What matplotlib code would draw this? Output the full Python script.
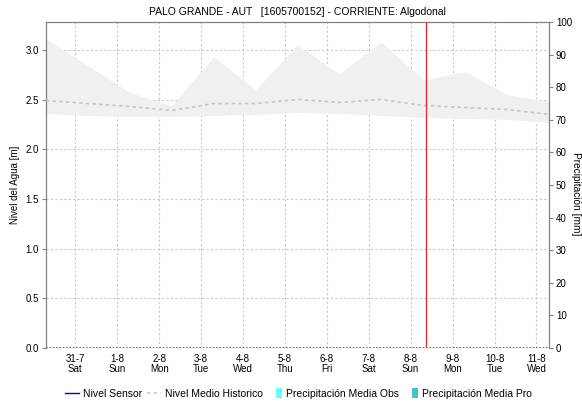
import matplotlib
matplotlib.use("Agg")
import matplotlib.pyplot as plt
from matplotlib.lines import Line2D
from matplotlib.patches import Patch, Rectangle
from matplotlib.legend_handler import HandlerPatch
import numpy as np

plt.rcParams['font.family'] = ['Liberation Sans', 'DejaVu Sans']

# ---- data ----
day_labels = ["31-7\nSat", "1-8\nSun", "2-8\nMon", "3-8\nTue", "4-8\nWed", "5-8\nThu",
              "6-8\nFri", "7-8\nSat", "8-8\nSun", "9-8\nMon", "10-8\nTue", "11-8\nWed"]
day_pos = list(range(12))            # days since 31-7 00:00
band_x = [-0.7 + k for k in range(13)]  # daily samples (07:00)
band_upper = [3.11, 2.84, 2.57, 2.44, 2.93, 2.60, 3.05, 2.76, 3.08, 2.70, 2.78, 2.55, 2.48]
band_lower = [2.36, 2.34, 2.33, 2.33, 2.34, 2.35, 2.37, 2.36, 2.34, 2.32, 2.31, 2.30, 2.27]
nivel_medio = [2.49, 2.46, 2.43, 2.39, 2.46, 2.46, 2.50, 2.47, 2.50, 2.44, 2.42, 2.40, 2.35]
now_x = 8.37
x_min, x_max = -0.7, 11.3

fig = plt.figure(figsize=(5.82, 4.05), dpi=100)
ax = fig.add_axes([46/582, 57/405, 503/582, 326/405])

ax.fill_between(band_x, band_lower, band_upper, color='#f0f0f0', lw=0, zorder=1)
ax.plot(band_x, nivel_medio, color='#c4c4c4', lw=1.2, ls=(0, (2, 2)), zorder=3)
ax.axvline(now_x, color='#e03030', lw=1.0, zorder=4)
ax.axhline(0, color='#555555', lw=1.2, ls=(0, (1, 1)), zorder=4)

ax.set_xlim(x_min, x_max)
ax.set_ylim(0, 3.28)
ax.set_yticks(np.arange(0, 3.01, 0.5))
ax.set_yticklabels([f"{v:.1f}" for v in np.arange(0, 3.01, 0.5)])
ax.set_xticks(day_pos)
ax.set_xticklabels(day_labels, linespacing=1.0)
ax.tick_params(axis='x', length=0, pad=4, labelsize=7)
ax.tick_params(axis='y', length=3, width=0.8, color='#808080', pad=2, labelsize=7)
ax.grid(True, color='#c8c8c8', lw=0.8, ls=(0, (2, 2)), zorder=0)
ax.set_axisbelow(True)
for s in ['left', 'right', 'top']:
    ax.spines[s].set_color('#808080')
    ax.spines[s].set_linewidth(0.9)
ax.spines['bottom'].set_visible(False)
ax.set_ylabel("Nivel del Agua [m]", fontsize=7)
ax.yaxis.set_label_coords(-0.052, 0.5)
ax.set_title("PALO GRANDE - AUT   [1605700152] - CORRIENTE: Algodonal", fontsize=7.5, pad=5)

ax2 = ax.twinx()
ax2.set_ylim(0, 100)
ax2.set_yticks(range(0, 101, 10))
ax2.tick_params(axis='y', length=3, width=0.8, color='#808080', pad=2, labelsize=7)
for s in ax2.spines.values():
    s.set_visible(False)
ax2.set_ylabel("Precipitación [mm]", fontsize=7.3, rotation=270)
ax2.yaxis.set_label_coords(1.0635, 0.472)


def narrow_patch(legend, orig_handle, xdescent, ydescent, width, height, fontsize):
    return Rectangle((xdescent + width * 0.6, ydescent - 1), width * 0.4, height + 2,
                     facecolor=orig_handle.get_facecolor(), edgecolor='none')


handles = [
    Line2D([], [], color='#0000dd', lw=1.0),
    Line2D([], [], color='#cccccc', lw=1.2, ls=(0, (2, 2))),
    Patch(facecolor='#66ffff'),
    Patch(facecolor='#44c4c4'),
]
labels = ["Nivel Sensor", "Nivel Medio Historico", "Precipitación Media Obs", "Precipitación Media Pro"]
fig.legend(handles, labels, loc='center', bbox_to_anchor=(298/582, 1 - 394/405), ncol=4,
           frameon=False, fontsize=7.5, handlelength=1.4, handletextpad=0.35, columnspacing=0.45,
           handler_map={Patch: HandlerPatch(patch_func=narrow_patch)})

fig.savefig("out.png", dpi=100)
